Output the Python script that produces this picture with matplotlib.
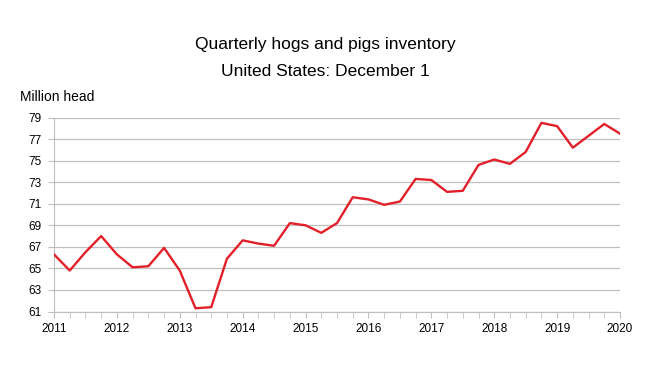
import matplotlib
matplotlib.use("Agg")
import matplotlib.pyplot as plt
from matplotlib.ticker import MultipleLocator

plt.rcParams["font.family"] = ["Liberation Sans", "DejaVu Sans"]

# quarterly inventory, Dec 2010 ... Dec 2019 (plotted 2011 .. 2020)
quarters = [2011 + i * 0.25 for i in range(37)]
inventory = [66.3, 64.8, 66.5, 68.0, 66.3, 65.1, 65.2, 66.9, 64.8, 61.3,
             61.4, 65.9, 67.6, 67.3, 67.1, 69.2, 69.0, 68.3, 69.2, 71.6,
             71.4, 70.9, 71.2, 73.3, 73.2, 72.1, 72.2, 74.6, 75.1, 74.7,
             75.8, 78.5, 78.2, 76.2, 77.3, 78.4, 77.5]
year_ticks = list(range(2011, 2021))
y_ticks = list(range(61, 80, 2))

fig = plt.figure(figsize=(6.5, 3.66), dpi=100)
ax = fig.add_axes([54 / 650, 1 - 311.5 / 366, 566 / 650, 194 / 366])

ax.plot(quarters, inventory, color="#e3202a", linewidth=1.7, zorder=3)

ax.set_xlim(2011, 2020)
ax.set_ylim(61, 79)
ax.set_xticks(year_ticks)
ax.set_xticklabels([str(y) for y in year_ticks], fontsize=8.5)
ax.xaxis.set_minor_locator(MultipleLocator(0.25))
ax.set_yticks(y_ticks)
ax.set_yticklabels([str(v) for v in y_ticks], fontsize=8.5)

ax.grid(axis="y", color="#bfbfbf", linewidth=0.9)
for s in ["top", "right"]:
    ax.spines[s].set_visible(False)
for s in ["left", "bottom"]:
    ax.spines[s].set_color("#bfbfbf")
ax.tick_params(axis="x", which="both", length=4, color="#bfbfbf", pad=4)
ax.tick_params(axis="y", length=4, color="#bfbfbf", pad=5)

fig.text(0.5, 1 - 45 / 366, "Quarterly hogs and pigs inventory", ha="center", va="center", fontsize=12.5)
fig.text(0.5, 1 - 71 / 366, "United States: December 1", ha="center", va="center", fontsize=12.5)
fig.text(20 / 650, 1 - 97 / 366, "Million head", ha="left", va="center", fontsize=10)

fig.savefig("out.png", dpi=100)
